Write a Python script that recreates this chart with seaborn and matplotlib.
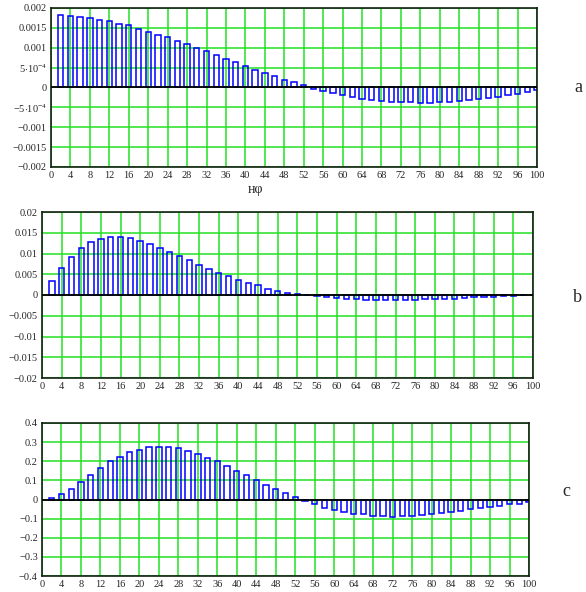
import numpy as np
import matplotlib
matplotlib.use("Agg")
import matplotlib.pyplot as plt
import seaborn as sns

# ================================
# Data
# ================================
n = list(range(2, 101, 2))

vals_a = [0.00182, 0.00179, 0.00177, 0.00174, 0.00171, 0.00167, 0.00160, 0.00156, 0.00148, 0.00140,
          0.00133, 0.00126, 0.00117, 0.00110, 0.00100, 0.00092, 0.00082, 0.00072, 0.00063, 0.00054,
          0.00045, 0.00037, 0.00029, 0.00020, 0.00013, 0.00006, -0.00003, -0.00009, -0.00015, -0.00019,
          -0.00025, -0.00029, -0.00031, -0.00034, -0.00036, -0.00037, -0.00037, -0.00038, -0.00038, -0.00037,
          -0.00036, -0.00033, -0.00031, -0.00028, -0.00026, -0.00023, -0.00019, -0.00016, -0.00012, -0.00007]

vals_b = [0.0034, 0.0065, 0.0091, 0.0114, 0.0127, 0.0136, 0.0139, 0.0139, 0.0137, 0.0130,
          0.0122, 0.0114, 0.0103, 0.0094, 0.0085, 0.0072, 0.0063, 0.0053, 0.0046, 0.0036,
          0.0029, 0.0023, 0.0015, 0.0010, 0.0005, 0.0002, 0.0000, -0.0002, -0.0005, -0.0008,
          -0.0010, -0.0010, -0.0012, -0.0013, -0.0013, -0.0013, -0.0011, -0.0011, -0.0010, -0.0010,
          -0.0009, -0.0009, -0.0007, -0.0006, -0.0006, -0.0004, -0.0003, -0.0002, -0.0001, 0.0000]

vals_c = [0.010, 0.028, 0.056, 0.090, 0.126, 0.167, 0.200, 0.223, 0.247, 0.261,
          0.272, 0.275, 0.272, 0.267, 0.251, 0.237, 0.219, 0.200, 0.175, 0.151,
          0.128, 0.104, 0.074, 0.056, 0.032, 0.014, -0.007, -0.026, -0.042, -0.054,
          -0.065, -0.075, -0.075, -0.084, -0.084, -0.091, -0.086, -0.086, -0.081, -0.074,
          -0.068, -0.063, -0.060, -0.049, -0.046, -0.037, -0.032, -0.026, -0.021, -0.012]

x_ticks = list(range(0, 101, 4))

yticks_a = [-0.002, -0.0015, -0.001, -0.0005, 0, 0.0005, 0.001, 0.0015, 0.002]
ylabels_a = ["\u22120.002", "\u22120.0015", "\u22120.001", r"$\minus 5{\cdot}10^{-4}$", "0",
             r"$5{\cdot}10^{-4}$", "0.001", "0.0015", "0.002"]
yticks_b = [-0.02, -0.015, -0.01, -0.005, 0, 0.005, 0.01, 0.015, 0.02]
ylabels_b = ["\u22120.02", "\u22120.015", "\u22120.01", "\u22120.005", "0", "0.005", "0.01", "0.015", "0.02"]
yticks_c = [-0.4, -0.3, -0.2, -0.1, 0, 0.1, 0.2, 0.3, 0.4]
ylabels_c = ["\u22120.4", "\u22120.3", "\u22120.2", "\u22120.1", "0", "0.1", "0.2", "0.3", "0.4"]

sns.set_style("white")
plt.rcParams["font.family"] = ["Liberation Serif", "DejaVu Serif"]
plt.rcParams["mathtext.fontset"] = "custom"
plt.rcParams["mathtext.rm"] = "Liberation Serif"
plt.rcParams["mathtext.it"] = "Liberation Serif"

W, H = 586, 592
fig = plt.figure(figsize=(W / 100, H / 100), dpi=100)


def px_axes(left, top, right, bottom):
    return fig.add_axes([left / W, 1 - bottom / H, (right - left) / W, (bottom - top) / H])


def panel(ax, vals, yticks, ylabels):
    sns.barplot(x=n, y=vals, native_scale=True, width=0.55, fill=False,
                color="#0000ff", linewidth=1.1, errorbar=None, ax=ax)
    ax.set_xlim(0, 100)
    ax.set_ylim(yticks[0], yticks[-1])
    ax.set_xticks(x_ticks)
    ax.set_xticklabels([str(t) for t in x_ticks])
    ax.set_yticks(yticks)
    ax.set_yticklabels(ylabels)
    ax.grid(True, color="#22e022", linewidth=1.1)
    ax.set_axisbelow(True)
    ax.axhline(0, color="black", linewidth=1.3, zorder=3)
    ax.tick_params(length=0, labelsize=7.5, pad=3)
    for s in ax.spines.values():
        s.set_visible(True)
        s.set_color("#102010")
        s.set_linewidth(1.2)
    ax.set_xlabel("")
    ax.set_ylabel("")


ax_a = px_axes(51, 8, 537, 167)
panel(ax_a, vals_a, yticks_a, ylabels_a)
ax_b = px_axes(42, 212, 533, 378)
panel(ax_b, vals_b, yticks_b, ylabels_b)
ax_c = px_axes(42, 423, 529, 576)
panel(ax_c, vals_c, yticks_c, ylabels_c)

fig.text(255 / W, 1 - 190 / H, "нφ", fontsize=10, ha="center", va="center")
fig.text(578 / W, 1 - 88 / H, "a", fontsize=13, ha="center", va="center")
fig.text(577 / W, 1 - 297 / H, "b", fontsize=13, ha="center", va="center")
fig.text(566 / W, 1 - 491 / H, "c", fontsize=13, ha="center", va="center")

fig.savefig("out.png", dpi=100, facecolor="white")
